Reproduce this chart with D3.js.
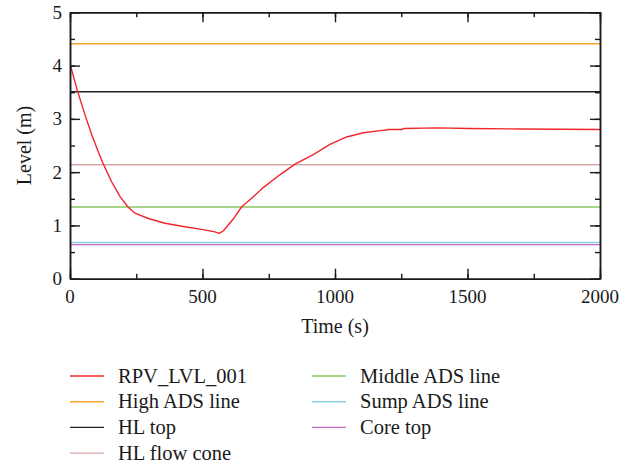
<!DOCTYPE html>
<html>
<head>
<meta charset="utf-8">
<script src="https://cdn.jsdelivr.net/npm/d3@7"></script>
<style>
  html, body { margin: 0; padding: 0; background: #fff; }
  svg text { font-family: "Liberation Serif", "Times New Roman", serif; fill: #1a1a1a; }
</style>
</head>
<body>
<svg id="chart" width="630" height="465"></svg>
<script>
// Reactor pressure vessel water level over time, seconds
const times = [0, 4, 29, 57, 82, 107, 126, 157, 189, 218, 245, 296, 358, 428, 491, 547, 563, 579, 616, 648, 690, 729, 792, 849, 918, 981, 1044, 1107, 1170, 1195, 1200, 1252, 1260, 1384, 1509, 1698, 2000];
const levels = [3.98, 3.96, 3.51, 3.07, 2.70, 2.38, 2.15, 1.82, 1.54, 1.35, 1.23, 1.13, 1.04, 0.98, 0.93, 0.88, 0.85, 0.90, 1.12, 1.35, 1.53, 1.71, 1.95, 2.15, 2.33, 2.52, 2.66, 2.74, 2.78, 2.79, 2.80, 2.80, 2.82, 2.83, 2.82, 2.81, 2.80];

// Reference elevations (m)
const refNames = ["High ADS line", "HL top", "HL flow cone", "Middle ADS line", "Sump ADS line", "Core top"];
const refLevels = [4.41, 3.51, 2.14, 1.345, 0.68, 0.64];
const refColors = ["#f6a425", "#222222", "#d6a8a8", "#88c862", "#86d2e2", "#c56cc0"];

const seriesName = "RPV_LVL_001";
const seriesColor = "#f0262b";

const xTicks = [0, 500, 1000, 1500, 2000];
const yTicks = [0, 1, 2, 3, 4, 5];

const svg = d3.select("#chart");
const plotLeft = 70, plotRight = 600, plotTop = 12.3, plotBottom = 278.7;

const x = d3.scaleLinear().domain([0, 2000]).range([plotLeft, plotRight]);
const y = d3.scaleLinear().domain([0, 5]).range([plotBottom, plotTop]);

// reference lines
const refs = refNames.map((n, i) => ({ name: n, value: refLevels[i], color: refColors[i] }));
svg.append("g").selectAll("line").data(refs).join("line")
  .attr("x1", x(0)).attr("x2", x(2000))
  .attr("y1", d => y(d.value)).attr("y2", d => y(d.value))
  .attr("stroke", d => d.color).attr("stroke-width", 1.4);

// level curve
const pts = times.map((t, i) => [t, levels[i]]);
svg.append("path").datum(pts)
  .attr("fill", "none").attr("stroke", seriesColor).attr("stroke-width", 1.4)
  .attr("stroke-linejoin", "round")
  .attr("d", d3.line().x(d => x(d[0])).y(d => y(d[1])));

// frame with inward major/minor ticks on all sides
const minorX = d3.range(0, 2001, 250), minorY = d3.range(0, 5.01, 0.5);
const axisStyle = g => {
  g.select(".domain").attr("stroke", "#1a1a1a").attr("stroke-width", 1.5);
  g.selectAll(".tick line").attr("stroke", "#1a1a1a").attr("stroke-width", 1.4);
};
const mk = (axisFn, scale, vals, size) => axisFn(scale).tickValues(vals).tickSize(size).tickSizeOuter(0).tickFormat("");

// bottom
svg.append("g").attr("transform", `translate(0,${plotBottom})`).call(mk(d3.axisTop, x, minorX, 5)).call(axisStyle);
svg.append("g").attr("transform", `translate(0,${plotBottom})`).call(mk(d3.axisTop, x, xTicks, 10)).call(axisStyle);
// top
svg.append("g").attr("transform", `translate(0,${plotTop})`).call(mk(d3.axisBottom, x, minorX, 5)).call(axisStyle);
svg.append("g").attr("transform", `translate(0,${plotTop})`).call(mk(d3.axisBottom, x, xTicks, 10)).call(axisStyle);
// left
svg.append("g").attr("transform", `translate(${plotLeft},0)`).call(mk(d3.axisRight, y, minorY, 5)).call(axisStyle);
svg.append("g").attr("transform", `translate(${plotLeft},0)`).call(mk(d3.axisRight, y, yTicks, 10)).call(axisStyle);
// right
svg.append("g").attr("transform", `translate(${plotRight},0)`).call(mk(d3.axisLeft, y, minorY, 5)).call(axisStyle);
svg.append("g").attr("transform", `translate(${plotRight},0)`).call(mk(d3.axisLeft, y, yTicks, 10)).call(axisStyle);

// tick labels
svg.append("g").selectAll("text").data(xTicks).join("text")
  .attr("x", d => x(d)).attr("y", 303).attr("text-anchor", "middle")
  .attr("font-size", 19).text(d => d);
svg.append("g").selectAll("text").data(yTicks).join("text")
  .attr("x", 62).attr("y", d => y(d) + 6.5).attr("text-anchor", "end")
  .attr("font-size", 19).text(d => d);

// axis titles
svg.append("text").attr("x", (plotLeft + plotRight) / 2).attr("y", 333)
  .attr("text-anchor", "middle").attr("font-size", 20).text("Time (s)");
svg.append("text").attr("transform", `translate(31,${(plotTop + plotBottom) / 2}) rotate(-90)`)
  .attr("text-anchor", "middle").attr("font-size", 20).text("Level (m)");

// legend
const legendItems = [{ name: seriesName, color: seriesColor }].concat(refs);
const lg = svg.append("g").selectAll("g").data(legendItems).join("g")
  .attr("transform", (d, i) => {
    const col = i < 4 ? 0 : 1, row = i < 4 ? i : i - 4;
    return `translate(${col === 0 ? 70 : 312},${376 + row * 25.7})`;
  });
lg.append("line").attr("x1", 0).attr("x2", 34).attr("y1", 0).attr("y2", 0)
  .attr("stroke", d => d.color).attr("stroke-width", 1.4);
lg.append("text").attr("x", 48).attr("y", 6.5).attr("font-size", 20.5).text(d => d.name);
</script>
</body>
</html>
